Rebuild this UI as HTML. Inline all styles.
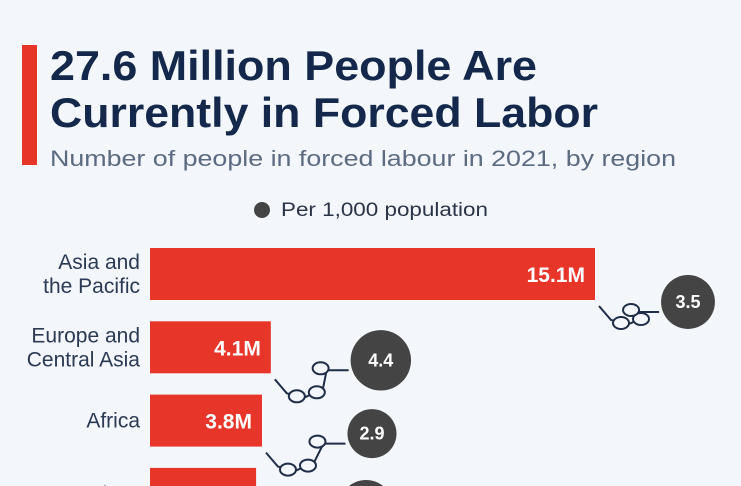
<!DOCTYPE html>
<html><head><meta charset="utf-8"><style>
html,body{margin:0;background:#f3f6fa;width:741px;height:486px;overflow:hidden;font-family:"Liberation Sans",sans-serif;}
</style></head><body>
<svg width="741" height="486" style="position:absolute;left:0;top:0;overflow:hidden">
<rect x="22" y="45" width="15" height="120" fill="#e8352a"/>
<text x="50" y="80" font-size="42" font-weight="bold" fill="#13284a" textLength="487" lengthAdjust="spacingAndGlyphs">27.6 Million People Are</text>
<text x="50" y="127" font-size="42" font-weight="bold" fill="#13284a" textLength="548" lengthAdjust="spacingAndGlyphs">Currently in Forced Labor</text>
<text x="50" y="166" font-size="22" fill="#5b6b82" textLength="626" lengthAdjust="spacingAndGlyphs">Number of people in forced labour in 2021, by region</text>
<circle cx="262" cy="210" r="8" fill="#444"/>
<text x="281" y="216" font-size="19" fill="#2a3448" textLength="207" lengthAdjust="spacingAndGlyphs">Per 1,000 population</text>
<g id="plot"></g>
</svg>
<script>
const regions=[["Asia and","the Pacific"],["Europe and","Central Asia"],["Africa"],["Americas"]];
const millions=[15.1,4.1,3.8,3.6];
const valueLabels=["15.1M","4.1M","3.8M","3.6M"];
const perThousand=[3.5,4.4,2.9,3.5];
const ns="http://www.w3.org/2000/svg";
const g=document.getElementById('plot');
const x=v=>150+v*29.47;
const y=i=>248+i*73.3;
const bh=52;
function mk(t,a){const e=document.createElementNS(ns,t);for(const k in a)e.setAttribute(k,a[k]);g.appendChild(e);return e;}
millions.forEach((v,i)=>{
  const r=mk('rect',{x:150,y:y(i),width:x(v)-150,height:bh,fill:'#e8352a'});
  
  
  const t=mk('text',{x:x(v)-10,y:y(i)+bh/2+8,'font-size':21,'font-weight':'bold',fill:'#fff','text-anchor':'end'});
  t.textContent=valueLabels[i];
  
  
  const lines=regions[i];
  lines.forEach((l,j)=>{
    const ty=y(i)+bh/2+7+(j-(lines.length-1)/2)*24;
    const lt=mk('text',{x:140,y:ty,'font-size':21,fill:'#2a3a55','text-anchor':'end'});
    lt.textContent=l;
    
    
  });
  const rad=14.4*Math.sqrt(perThousand[i]);
  const cx=x(v)+93+(i?17:0);
  const cy=y(i)+bh/2+(i?13:28);
  const sx=x(v)+4, sy=y(i)+bh+6;
  const ex=cx-rad-2, ey=cy+10;
  const ch=mk('g',{stroke:'#1e2d48','stroke-width':2,fill:'none'});
  
  
  const pts=[[sx,sy],[sx+12,sy+14],[sx+30,sy+18],[sx+48,sy+10],[ex-22,ey],[ex,ey]];
  let d='M'+pts.map(p=>p.join(',')).join(' L');
  const pl=document.createElementNS(ns,'path');pl.setAttribute('d',d);ch.appendChild(pl);
  [[sx+22,sy+17],[sx+42,sy+13],[ex-28,ey-2]].forEach(p=>{
    const el=document.createElementNS(ns,'ellipse');
    el.setAttribute('cx',p[0]);el.setAttribute('cy',p[1]);el.setAttribute('rx',8);el.setAttribute('ry',6);
    el.setAttribute('fill','#f3f6fa');ch.appendChild(el);
  });
  g.appendChild(ch);
  const c=mk('circle',{cx:cx,cy:cy,r:rad,fill:'#444'});
  
  
  const ct=mk('text',{x:cx,y:cy+6,'font-size':18,'font-weight':'bold',fill:'#fff','text-anchor':'middle'});
  ct.textContent=perThousand[i];
  
  
});
</script>
</body></html>
